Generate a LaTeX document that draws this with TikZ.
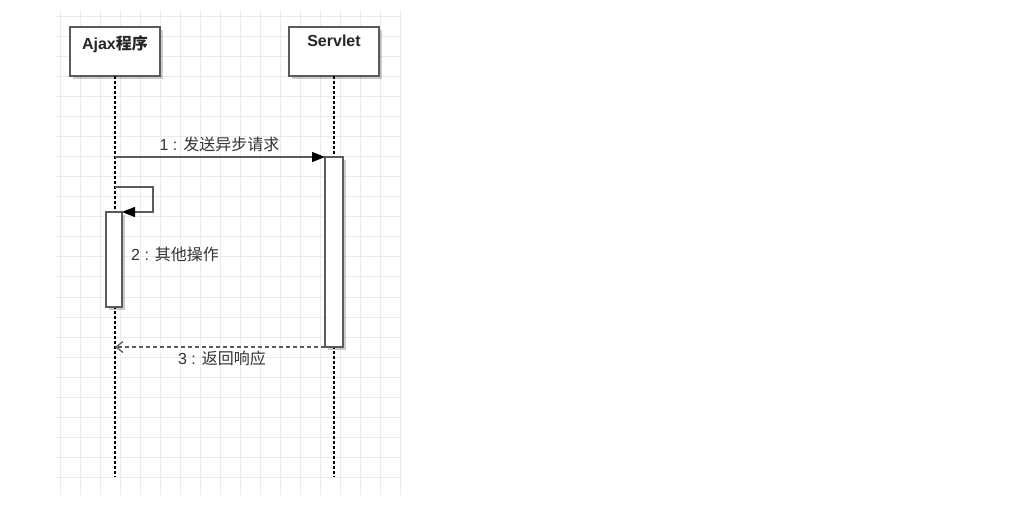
\documentclass[tikz,border=0pt]{standalone}
\usepackage{fontspec}
\setmainfont{Liberation Sans}
\newfontfamily\cjk{Noto Sans CJK SC}
\usetikzlibrary{arrows.meta,shadows}
\definecolor{gridc}{HTML}{EBEBEB}
\definecolor{linec}{HTML}{5A5A5A}
\definecolor{textc}{HTML}{333333}
\begin{document}
\begin{tikzpicture}[x=1pt,y=-1pt,
  every node/.style={font=\fontsize{16}{19}\selectfont, text=textc},
  boxshadow/.style={drop shadow={shadow xshift=3pt,shadow yshift=-3pt,fill=black,opacity=0.2}},
  actorbox/.style={draw=linec, fill=white, line width=1.5pt, minimum width=90pt,
    minimum height=49pt, inner sep=0pt, outer sep=0pt, boxshadow},
  actortitle/.style={anchor=north, inner sep=0pt, font=\bfseries\fontsize{16}{19}\selectfont, text=black!85},
  actbar/.style={draw=linec, fill=white, line width=1.5pt, inner sep=0pt, outer sep=0pt, boxshadow},
  lifeline/.style={black, line width=1.1pt, dash pattern=on 3pt off 2pt},
  msg/.style={linec, line width=1.4pt, -{Triangle[length=13pt,width=10pt,color=black]}},
  reply/.style={linec, line width=1.3pt, dash pattern=on 4pt off 3pt, -{Straight Barb[length=7pt,width=11pt]}},
  msglabel/.style={inner sep=0pt, text=textc}]
\useasboundingbox (0,0) rectangle (1033,521);
\fill[white] (0,0) rectangle (1033,521);
% background grid
\foreach \gx in {60,80,...,400} \draw[gridc, line width=1pt] (\gx,10) -- (\gx,495);
\foreach \gy in {17,37,...,477} \draw[gridc, line width=1pt] (55,\gy) -- (400,\gy);

% participants
\node[actorbox] (ajax) at (115,51.5) {};
\node[actortitle] (ajaxname) at ([yshift=-8pt]ajax.north) {Ajax{\cjk 程序}};
\node[actorbox] (servlet) at (334,51.5) {};
\node[actortitle] (servletname) at ([yshift=-8pt]servlet.north) {Servlet};

% lifeline ends
\coordinate (ajaxend) at (115,477);
\coordinate (servletend) at (334,477);
\draw[lifeline] (ajax.south) -- (ajaxend);
\draw[lifeline] (servlet.south) -- (servletend);

% activation bars
\node[actbar, minimum width=18pt, minimum height=190pt] (servletact) at (334,252) {};
\node[actbar, minimum width=16pt, minimum height=95pt] (ajaxact) at (114,259.5) {};

% 1: asynchronous request
\coordinate (req) at (115,157);
\draw[msg] (req) -- (servletact.north west);
\node[msglabel] (lab1) at (219.5,144) {1 : {\cjk 发送异步请求}};

% 2: self call
\coordinate (selfout) at (115,187);
\coordinate (selfturn) at (153,187);
\draw[msg] (selfout) -- (selfturn) |- (ajaxact.north east);
\node[msglabel, anchor=west] (lab2) at (131,254) {2 : {\cjk 其他操作}};

% 3: response
\coordinate (resp) at (115,347);
\draw[reply] (servletact.south west) -- (resp);
\node[msglabel] (lab3) at (222,358) {3 : {\cjk 返回响应}};
\end{tikzpicture}
\end{document}
